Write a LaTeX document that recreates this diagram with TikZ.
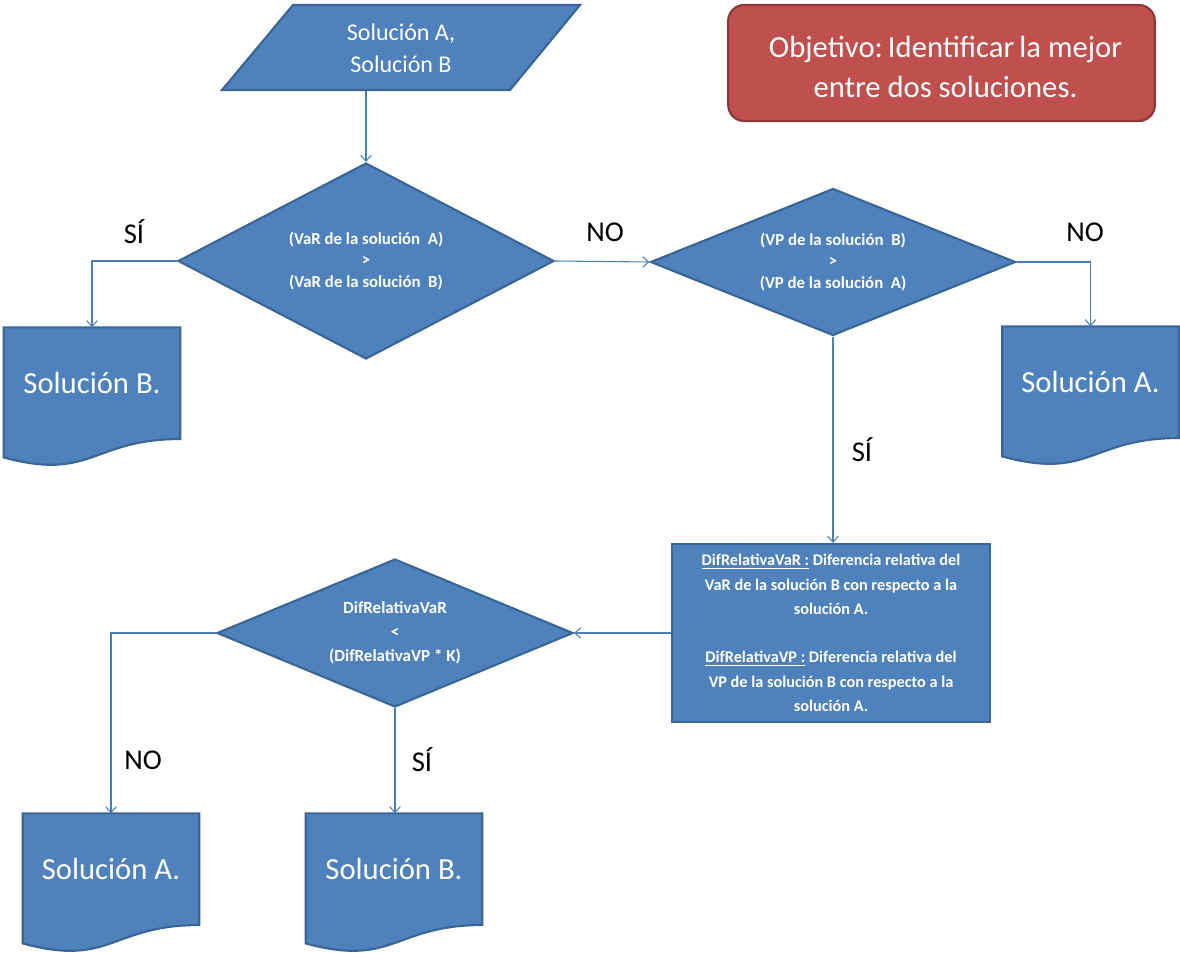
\documentclass[tikz,border=0pt]{standalone}
\usepackage{fontspec}
\setmainfont{Carlito}
\usetikzlibrary{shapes.geometric,arrows.meta,calc}

\definecolor{shapefill}{HTML}{4F81BD}
\definecolor{shapeline}{HTML}{3A6597}
\definecolor{linkcol}{HTML}{4A7EBB}
\definecolor{goalfill}{HTML}{C0504D}
\definecolor{goalline}{HTML}{8C3836}

\tikzset{
  flowshape/.style={fill=shapefill, draw=shapeline, line width=1.6pt, text=white},
  decision/.style={flowshape, diamond, aspect=2, inner sep=0pt, align=center,
    font=\fontsize{12.6}{15.8}\selectfont\bfseries},
  frame/.style={rectangle, inner sep=0pt},
  doctext/.style={text=white, font=\fontsize{23}{27}\selectfont},
  link/.style={draw=linkcol, line width=0.8pt, -{Straight Barb[length=4.5pt,width=8pt]}},
  answer/.style={text=black, font=\fontsize{21.5}{26}\selectfont},
}

% document symbol: a frame node plus a wavy lower edge
\newcommand{\flowdoc}[4]{%
  \node[frame, minimum width=132pt, minimum height=104pt] (#1) at (#2,#3) {};
  \draw[flowshape] (#1.north west) -- (#1.north east)
    -- ($(#1.north east)!0.802!(#1.south east)$)
    .. controls ($(#1.north)!0.802!(#1.south)$) and ($(#1.north)!1.107!(#1.south)$)
    .. ($(#1.north west)!0.934!(#1.south west)$) -- cycle;
  \node[doctext] at ($(#1.north)+(0,56)$) {#4};
}

\begin{document}
\begin{tikzpicture}[x=0.75pt, y=-0.75pt]
  \useasboundingbox (0,0) rectangle (1180,952);

  % input parallelogram
  \draw[flowshape] (293,5) -- (580,5) -- (510,90) -- (222,90) -- cycle;
  \node[frame, minimum width=268.5pt, minimum height=63.75pt, text=white, align=center,
        font=\fontsize{18}{24}\selectfont] (inp) at (401,48.5) {Solución A,\\Solución B};

  % goal note
  \node[fill=goalfill, draw=goalline, line width=1.6pt, rounded corners=12pt,
        minimum width=320pt, minimum height=87pt, text=white, align=center,
        font=\fontsize{23}{30}\selectfont] (goal) at (941.5,63) {};
  \node[text=white, align=center, font=\fontsize{23}{30}\selectfont] (goaltext)
        at ($(goal.center)+(4,4)$)
        {Objetivo:\,Identificar\,la mejor\\entre dos soluciones.};

  % decisions
  \node[decision, minimum width=282pt, minimum height=147pt] (d1) at (366,261)
    {(VaR de la solución\ \ A)\\>\\(VaR de la solución\ \ B)};
  \node[decision, minimum width=273.75pt, minimum height=110.25pt] (d2) at (833,262)
    {(VP de la solución\ \ B)\\>\\(VP de la solución\ \ A)};
  \node[decision, minimum width=267pt, minimum height=111pt,
        font=\fontsize{12.75}{18}\selectfont\bfseries] (d3) at (395,633)
    {DifRelativaVaR\\<\\(DifRelativaVP * K)};

  % definitions box
  \node[flowshape, rectangle, minimum width=238.5pt, minimum height=133.5pt, inner sep=0pt,
        align=center, font=\fontsize{12.2}{18.2}\selectfont\bfseries] (defs) at (831,633)
    {\underline{DifRelativaVaR :} Diferencia relativa del\\
     VaR de la solución B con respecto a la\\
     solución A.\\[18pt]
     \underline{DifRelativaVP :} Diferencia relativa del\\
     VP de la solución B con respecto a la\\
     solución A.};

  % outcomes
  \flowdoc{r1}{92}{397}{Solución B.}
  \flowdoc{r2}{1090.5}{396}{Solución A.}
  \flowdoc{r3}{111}{883}{Solución A.}
  \flowdoc{r4}{394}{883}{Solución B.}

  % connectors
  \draw[link] (d1.north |- inp.south) -- (d1.north);
  \draw[link] (d1.west) -| (r1.north);
  \draw[link] (d1.east) -- (d2.west);
  \draw[link] (d2.east) -| (r2.north);
  \draw[link] (d2.south) -- (d2.south |- defs.north);
  \draw[link] (defs.west) -- (d3.east);
  \draw[link] (d3.west) -| (r3.north);
  \draw[link] (d3.south) -- (d3.south |- r4.north);

  % branch labels
  \node[answer] (l1) at (134,232) {SÍ};
  \node[answer] (l2) at (605,232) {NO};
  \node[answer] (l3) at (1085,232) {NO};
  \node[answer] (l4) at (862,450) {SÍ};
  \node[answer] (l5) at (143,760) {NO};
  \node[answer] (l6) at (422,760) {SÍ};
\end{tikzpicture}
\end{document}
